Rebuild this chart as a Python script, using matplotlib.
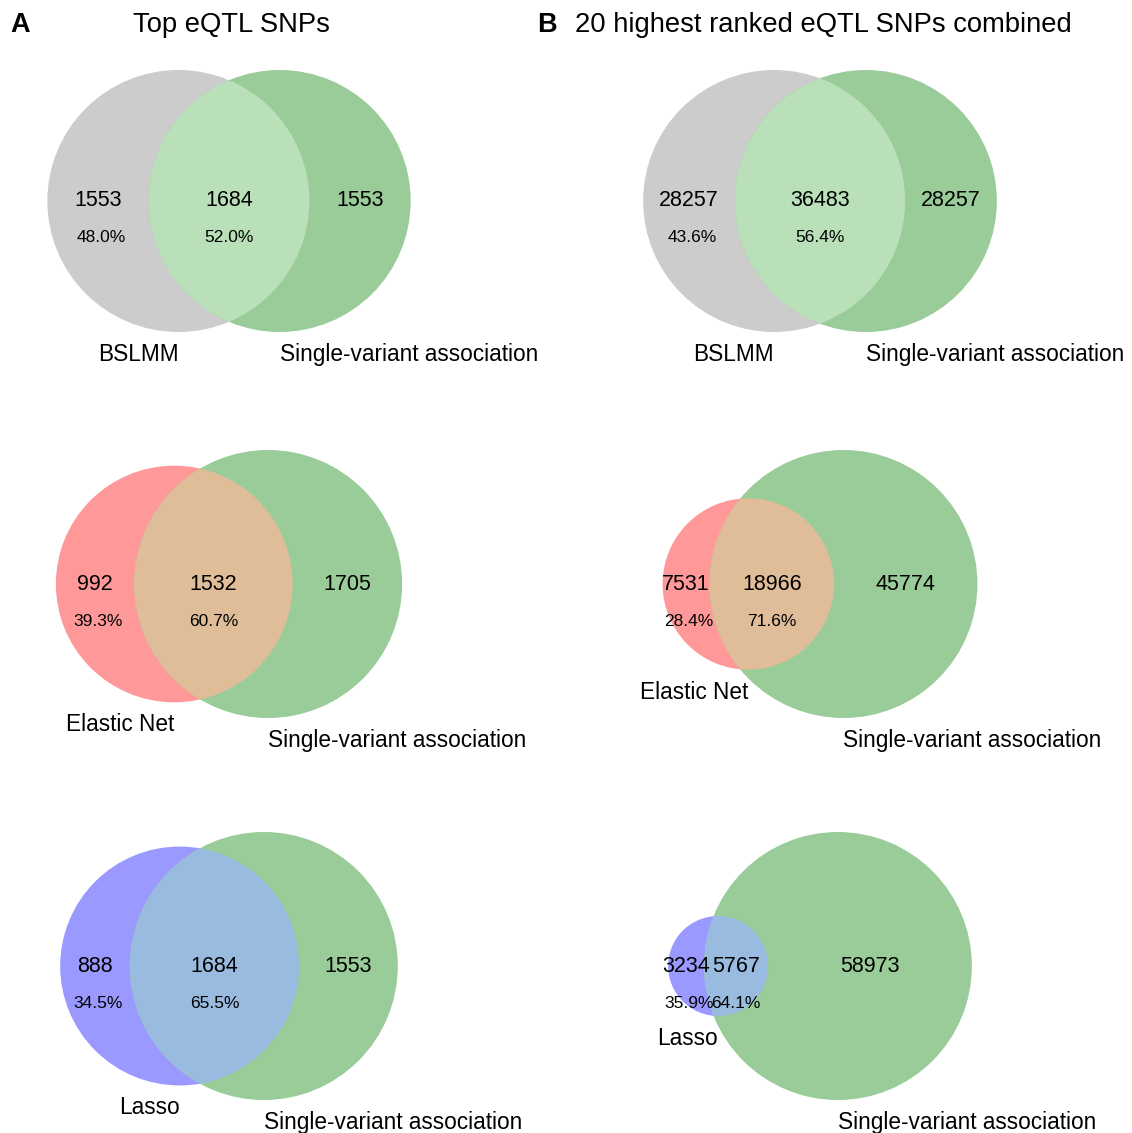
import numpy as np
import matplotlib
matplotlib.use('Agg')
import matplotlib.pyplot as plt
from matplotlib.patches import Circle

plt.rcParams['font.family'] = ['Liberation Sans', 'DejaVu Sans']

# subset sizes: (first method only, single-variant only, shared)
bslmm_top = (1553, 1553, 1684)
enet_top = (992, 1705, 1532)
lasso_top = (888, 1553, 1684)
bslmm_comb = (28257, 28257, 36483)
enet_comb = (7531, 45774, 18966)
lasso_comb = (3234, 58973, 5767)

method_names = ['BSLMM', 'Elastic Net', 'Lasso']
other_name = 'Single-variant association'
panel_titles = ['Top eQTL SNPs', '20 highest ranked eQTL SNPs combined']
panel_letters = ['A', 'B']

# fill colours for the method circle, the single-variant circle and their overlap
method_colors = ['#cccccc', '#ff9999', '#9999ff']
overlap_colors = ['#b9e0b9', '#e0bd99', '#99bbe0']
sv_color = '#99cc99'


def lens_area(r1, r2, d):
    if d >= r1 + r2:
        return 0.0
    if d <= abs(r1 - r2):
        return np.pi * min(r1, r2) ** 2
    a1 = r1 ** 2 * np.arccos((d ** 2 + r1 ** 2 - r2 ** 2) / (2 * d * r1))
    a2 = r2 ** 2 * np.arccos((d ** 2 + r2 ** 2 - r1 ** 2) / (2 * d * r2))
    a3 = 0.5 * np.sqrt((-d + r1 + r2) * (d + r1 - r2) * (d - r1 + r2) * (d + r1 + r2))
    return a1 + a2 - a3


def find_distance(r1, r2, target):
    lo, hi = abs(r1 - r2), r1 + r2
    for _ in range(100):
        mid = (lo + hi) / 2
        if lens_area(r1, r2, mid) > target:
            lo = mid
        else:
            hi = mid
    return (lo + hi) / 2


def venn2(ax, sizes, cx, cy, rbig, name, col_a, col_ab):
    only_a, only_b, both = sizes
    set_a, set_b = only_a + both, only_b + both
    big = max(set_a, set_b)
    ra = rbig * np.sqrt(set_a / big)
    rb = rbig * np.sqrt(set_b / big)
    # overlap area in the same (pixel) units as the circles
    target = both / big * np.pi * rbig ** 2
    d = find_distance(ra, rb, target)
    left = -ra
    right = d + rb
    xa = cx - (left + right) / 2
    xb = xa + d

    ca = Circle((xa, cy), ra, facecolor=col_a, edgecolor='none')
    cb = Circle((xb, cy), rb, facecolor=sv_color, edgecolor='none')
    ax.add_patch(ca)
    ax.add_patch(cb)
    lens = Circle((xb, cy), rb, facecolor=col_ab, edgecolor='none')
    ax.add_patch(lens)
    lens.set_clip_path(Circle((xa, cy), ra, transform=ax.transData))

    pos_a = ((xa - ra) + (xb - rb)) / 2
    pos_ab = ((xb - rb) + (xa + ra)) / 2
    pos_b = ((xa + ra) + (xb + rb)) / 2
    ax.text(pos_a, cy, str(only_a), ha='center', va='center', fontsize=15.5)
    ax.text(pos_ab, cy, str(both), ha='center', va='center', fontsize=15.5)
    ax.text(pos_b, cy, str(only_b), ha='center', va='center', fontsize=15.5)

    pct_a = 100 * only_a / set_a
    pct_ab = 100 * both / set_a
    ax.text(pos_a + 3, cy + 37, f'{pct_a:.1f}%', ha='center', va='center', fontsize=12.5)
    ax.text(pos_ab, cy + 37, f'{pct_ab:.1f}%', ha='center', va='center', fontsize=12.5)

    ax.text(xa, cy + ra + 11, name, ha='right', va='top', fontsize=16.3)
    ax.text(xb, cy + rb + 11, other_name, ha='left', va='top', fontsize=16.3)


fig = plt.figure(figsize=(11.32, 11.33), dpi=100)
ax = fig.add_axes([0, 0, 1, 1])
ax.set_xlim(0, 1132)
ax.set_ylim(1133, 0)
ax.set_aspect('equal')
ax.axis('off')

col_x = [229, 820]
row_y = [201, 584, 966]
row_r = [131, 134, 134]

panels = [[bslmm_top, enet_top, lasso_top], [bslmm_comb, enet_comb, lasso_comb]]
for c in range(2):
    for r in range(3):
        venn2(ax, panels[c][r], col_x[c], row_y[r], row_r[r],
              method_names[r], method_colors[r], overlap_colors[r])

ax.text(10, 25, panel_letters[0], ha='left', va='center', fontsize=19.5, fontweight='bold')
ax.text(col_x[0] + 2, 25, panel_titles[0], ha='center', va='center', fontsize=19.7)
ax.text(537, 25, panel_letters[1], ha='left', va='center', fontsize=19.5, fontweight='bold')
ax.text(575, 25, panel_titles[1], ha='left', va='center', fontsize=19.7)

fig.savefig('out.png', dpi=100)
